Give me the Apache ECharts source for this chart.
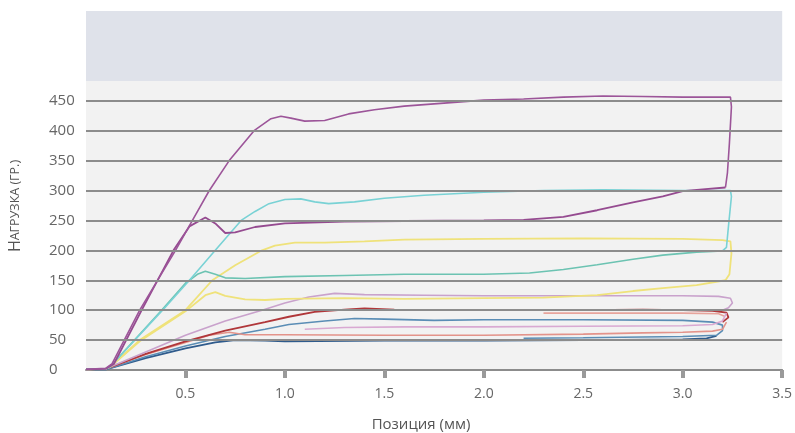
<!DOCTYPE html>
<html>
<head>
<meta charset="utf-8">
<script src="https://cdn.jsdelivr.net/npm/echarts@6/dist/echarts.min.js"></script>
<style>
  html, body { margin: 0; padding: 0; background: #fff; }
  #chart { width: 795px; height: 433px; }
</style>
</head>
<body>
<div id="chart"></div>
<script>
// y ticks shown on the axis
const yTicks = [0, 50, 100, 150, 200, 250, 300, 350, 400, 450]
const xTicks = [0.5, 1.0, 1.5, 2.0, 2.5, 3.0, 3.5]

// curves as [position mm, load g]
const purpleUpper = [[0,1],[0.1,3],[0.13,10],[0.27,100],[0.45,200],[0.535,250],[0.62,300],[0.72,350],[0.845,400],[0.93,420],[0.98,424],[1.03,421],[1.1,416],[1.2,417],[1.32,428],[1.45,435],[1.6,441],[1.8,446],[2.0,451],[2.2,453],[2.4,456],[2.6,458],[2.8,457],[3.0,456],[3.24,456],[3.245,440],[3.235,380],[3.225,330],[3.215,305]]
const purpleLower = [[0,1],[0.1,2],[0.14,10],[0.28,100],[0.44,200],[0.52,240],[0.6,255],[0.65,245],[0.7,229],[0.75,230],[0.85,239],[1.0,245],[1.3,248],[1.6,249],[2.0,250],[2.2,251],[2.4,256],[2.57,267],[2.75,280],[2.9,290],[3.0,299],[3.1,302],[3.215,305]]
const cyanUpper = [[0,1],[0.1,2],[0.12,5],[0.385,100],[0.52,150],[0.65,200],[0.78,250],[0.85,265],[0.92,278],[1.0,285],[1.08,286],[1.15,281],[1.22,278],[1.35,281],[1.5,287],[1.7,292],[2.0,297],[2.3,300],[2.6,301],[3.0,300],[3.24,300],[3.245,290],[3.23,240],[3.22,205],[3.2,199]]
const tealLower = [[0,1],[0.1,2],[0.12,5],[0.38,100],[0.5,145],[0.56,160],[0.6,165],[0.65,160],[0.7,154],[0.8,153],[1.0,156],[1.3,158],[1.6,160],[2.0,160],[2.23,162],[2.4,168],[2.57,176],[2.75,185],[2.9,192],[3.07,197],[3.2,199]]
const yellowUpper = [[0,1],[0.1,2],[0.12,5],[0.27,50],[0.5,100],[0.635,150],[0.75,175],[0.885,200],[0.95,208],[1.05,213],[1.2,213],[1.4,215],[1.6,218],[2.0,219],[2.5,220],[3.0,219],[3.2,217],[3.24,215],[3.245,195],[3.235,160],[3.215,150]]
const yellowLower = [[0,1],[0.1,2],[0.12,5],[0.27,48],[0.5,98],[0.6,125],[0.65,130],[0.7,124],[0.8,118],[0.9,117],[1.0,119],[1.3,120],[1.6,119],[2.0,120],[2.3,121],[2.57,125],[2.75,132],[2.9,137],[3.07,142],[3.215,150]]
const lavender = [[0,1],[0.1,2],[0.3,30],[0.5,58],[0.7,82],[0.885,100],[1.0,112],[1.12,122],[1.25,128],[1.4,126],[1.7,125],[2.0,124],[2.5,124],[3.0,124],[3.18,123],[3.24,120],[3.25,112],[3.23,104],[3.2,100]]
const pinkReturn = [[1.1,68],[1.3,71],[1.6,72],[2.0,72],[2.5,73],[3.0,74],[3.15,76],[3.2,82],[3.22,95]]
const darkRed = [[0,1],[0.1,2],[0.3,27],[0.5,48],[0.7,66],[0.9,80],[1.02,89],[1.15,97],[1.3,101],[1.4,103],[1.55,101],[1.8,100],[2.0,100],[2.5,100],[2.8,101],[3.0,100],[3.15,99],[3.22,96],[3.23,88],[3.2,80]]
const salmon = [[0,1],[0.1,2],[0.3,26],[0.5,46],[0.62,58],[0.72,63],[0.8,59],[1.0,59],[1.5,58],[2.0,58],[2.5,60],[2.8,62],[3.0,63],[3.15,65],[3.2,68],[3.22,80]]
const lightRed = [[2.3,95],[2.6,95],[3.0,95],[3.18,94],[3.21,90]]
const steelBlue = [[0,1],[0.1,1],[0.3,22],[0.5,40],[0.7,56],[0.9,68],[1.02,76],[1.2,82],[1.35,86],[1.5,85],[1.75,83],[2.0,84],[2.5,84],[3.0,83],[3.15,80],[3.2,75],[3.2,66],[3.17,58],[3.0,56],[2.5,54],[2.2,53]]
const navy = [[0,1],[0.1,1],[0.3,20],[0.5,36],[0.65,46],[0.75,50],[0.9,49],[1.0,48],[1.5,49],[2.0,49],[2.5,50],[3.0,51],[3.12,53],[3.17,57]]

const chart = echarts.init(document.getElementById('chart'))

function curve(data, color, width) {
  return {
    type: 'line',
    data: data,
    showSymbol: false,
    silent: true,
    z: 3,
    lineStyle: { color: color, width: width || 1.6 }
  }
}

chart.setOption({
  animation: false,
  textStyle: { fontFamily: 'Open Sans' },
  grid: {
    left: 86, right: 8, top: 11, bottom: 63,
    show: true, backgroundColor: '#f2f2f2', borderWidth: 0
  },
  xAxis: {
    type: 'value',
    min: 0, max: 3.5, interval: 0.5,
    axisLine: { show: true, lineStyle: { color: '#8c8c8c', width: 2 } },
    axisTick: { show: true, length: 8, customValues: xTicks, lineStyle: { color: '#9a9a9a', width: 4 } },
    axisLabel: {
      color: '#666', fontSize: 14, margin: 17,
      customValues: xTicks,
      formatter: v => v === 0 ? '' : v.toFixed(1)
    },
    splitLine: { show: false }
  },
  yAxis: {
    type: 'value',
    min: 0, max: 600, interval: 50,
    axisLine: { show: false },
    axisTick: { show: false },
    axisLabel: {
      color: '#666', fontSize: 15, margin: 37, align: 'left',
      formatter: v => v <= 450 ? String(v) : ''
    },
    splitLine: { show: false }
  },
  graphic: [
    {
      type: 'text', x: 421, y: 425,
      style: { text: 'Позиция (мм)', fill: '#555', font: '15px "Open Sans"', align: 'center', verticalAlign: 'middle' }
    },
    {
      type: 'text', x: 15, y: 206, rotation: Math.PI / 2,
      style: {
        text: '{a|Н}{b|АГРУЗКА (ГР.)}',
        align: 'center', verticalAlign: 'middle',
        rich: {
          a: { fontSize: 16, fontFamily: 'Open Sans', fill: '#555' },
          b: { fontSize: 12.5, fontFamily: 'Open Sans', fill: '#555' }
        }
      }
    }
  ],
  series: [
    {
      type: 'line',
      data: [],
      silent: true,
      z: 1,
      markArea: {
        silent: true,
        itemStyle: { color: '#dfe2ea' },
        data: [[{ yAxis: 483 }, { yAxis: 600 }]]
      },
      markLine: {
        silent: true,
        symbol: 'none',
        label: { show: false },
        lineStyle: { color: '#8c8c8c', width: 2, type: 'solid' },
        data: yTicks.filter(v => v > 0).map(v => ({ yAxis: v }))
      }
    },
    curve(navy, '#2f5b8c', 1.8),
    curve(steelBlue, '#5a8db5'),
    curve(salmon, '#e3938a'),
    curve(lightRed, '#e7a49c'),
    curve(darkRed, '#b0373a', 1.8),
    curve(pinkReturn, '#d9a9d2'),
    curve(lavender, '#c9a2cc'),
    curve(yellowLower, '#efe27a', 1.8),
    curve(yellowUpper, '#efe27a', 1.8),
    curve(tealLower, '#6cc3b2', 1.6),
    curve(cyanUpper, '#79d2d5', 1.6),
    curve(purpleLower, '#954b90', 1.8),
    curve(purpleUpper, '#9c5599', 1.6)
  ]
})
</script>
</body>
</html>
